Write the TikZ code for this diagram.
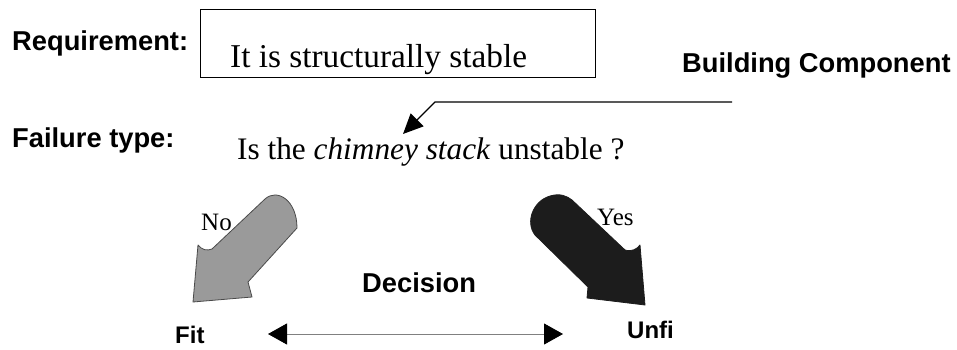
\documentclass[tikz,border=0pt]{standalone}
\usepackage{fontspec}
\setmainfont{Liberation Serif}
\setsansfont{Liberation Sans}
\usetikzlibrary{arrows.meta}
\definecolor{nofill}{HTML}{9A9A9A}
\definecolor{nodraw}{HTML}{4A4A4A}
\definecolor{yesfill}{HTML}{1C1C1C}
\begin{document}
\begin{tikzpicture}[x=1pt,y=-1pt,
  heading/.style={inner sep=0pt,anchor=base west,
    font=\sffamily\bfseries\fontsize{27.3}{30}\selectfont},
  outcome/.style={inner sep=0pt,anchor=base west,
    font=\sffamily\bfseries\fontsize{24}{28}\selectfont},
  bodytext/.style={inner sep=0pt,anchor=base west},
  answer/.style={inner sep=0pt,anchor=base west,
    font=\fontsize{25}{28}\selectfont},
  pointer/.style={line width=1.4pt,-{Triangle[length=20pt,width=18pt]}},
  scaleline/.style={draw=gray,line width=0.9pt,
    {Triangle[length=19pt,width=21pt,color=black]}-{Triangle[length=19pt,width=21pt,color=black]}},
  blockno/.style={fill=nofill,draw=nodraw,line width=0.8pt,line join=round},
  blockyes/.style={fill=yesfill,draw=yesfill,line width=0.8pt,line join=round}]
\useasboundingbox (0,0) rectangle (957,350);

% requirement row
\node[heading] (req) at (12,51) {Requirement:};
\draw[line width=1pt] (200,10) rectangle (595,78);
\node[bodytext,font=\fontsize{33.3}{36}\selectfont] (reqtext) at (230,68) {It is structurally stable};
\node[heading] (comp) at (682,73) {Building Component};

% failure row
\node[heading] (fail) at (12,147) {Failure type:};
\node[bodytext,font=\fontsize{31.3}{36}\selectfont] (question) at (237,159)
  {Is the \textit{chimney stack} unstable ?};

% pointer from the component heading to the component name
\coordinate (pstart) at (732,102);
\coordinate (pbend) at (435,102);
\coordinate (ptip) at (403,134);
\draw[pointer] (pstart) -- (pbend) -- (ptip);

% "No" block arrow
\path[blockno] (193,302) -- (198,245)
  .. controls (202,250) and (207,251) .. (212,249)
  -- (265,199)
  .. controls (277,188) and (297,200) .. (297,228)
  -- (248,282) -- (252,297) -- cycle;
\node[answer] (no) at (201,230) {No};

% "Yes" block arrow
\path[blockyes] (535,235)
  .. controls (525,222) and (533,201) .. (550,196)
  .. controls (560,193) and (567,196) .. (572,200)
  -- (625,250)
  .. controls (632,252) and (637,249) .. (640,245)
  -- (645,305) -- (587,298) -- (588,287) -- cycle;
\node[answer] (yes) at (597,225) {Yes};

% decision scale
\node[heading] (decision) at (362,292) {Decision};
\node[outcome] (fit) at (175,343) {Fit};
\node[outcome] (unfit) at (627,338) {Unfi};
\coordinate (dleft) at (268,334);
\coordinate (dright) at (563,334);
\draw[scaleline] (dleft) -- (dright);
\end{tikzpicture}
\end{document}
